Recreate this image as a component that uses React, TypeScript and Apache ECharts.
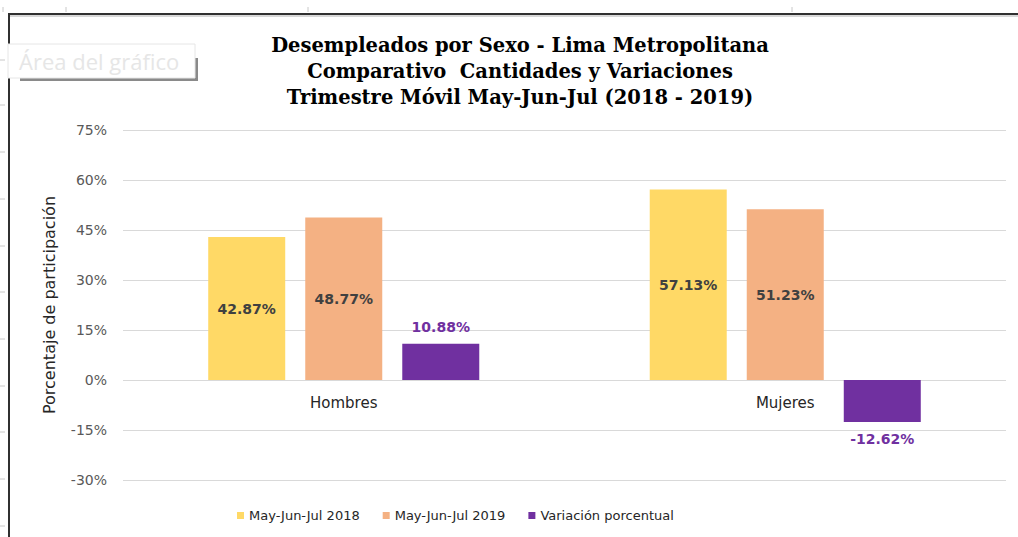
import React, { useEffect, useRef } from "react";
import * as echarts from "echarts";

const categories = ["Hombres", "Mujeres"];
const seriesNames = ["May-Jun-Jul 2018", "May-Jun-Jul 2019", "Variación porcentual"];
const values2018 = [42.87, 57.13];
const values2019 = [48.77, 51.23];
const variacion = [10.88, -12.62];
const yTicks = { min: -30, max: 75, interval: 15 };
const titleLines = [
  "Desempleados por Sexo - Lima Metropolitana",
  "Comparativo  Cantidades y Variaciones",
  "Trimestre Móvil May-Jun-Jul (2018 - 2019)",
];

const fmt = (v: number) => v.toFixed(2) + "%";

export default function App() {
  const ref = useRef<HTMLDivElement>(null);
  useEffect(() => {
    document.body.style.margin = "0";
    const chart = echarts.init(ref.current!, null, { renderer: "svg" });
    const sans = "DejaVu Sans";
    const innerLabel = {
      show: true,
      position: "inside",
      formatter: (p: any) => fmt(p.value),
      color: "#404040",
      fontFamily: sans,
      fontWeight: "bold",
      fontSize: 14,
    };
    const leftTicksY = [60, 105, 152, 199, 246, 292, 339, 386, 432, 479, 526];
    const topTicksX = [3, 66, 308, 792];
    const graphics: any[] = [];
    leftTicksY.forEach((y) =>
      graphics.push({ type: "line", shape: { x1: 0, y1: y, x2: 5, y2: y }, style: { stroke: "#c8c8c8", lineWidth: 1 }, silent: true })
    );
    topTicksX.forEach((x) =>
      graphics.push({ type: "line", shape: { x1: x, y1: 7, x2: x, y2: 12 }, style: { stroke: "#c8c8c8", lineWidth: 1 }, silent: true })
    );
    graphics.push(
      { type: "line", shape: { x1: 9, y1: 14, x2: 1018, y2: 14 }, style: { stroke: "#303030", lineWidth: 2 }, silent: true },
      { type: "line", shape: { x1: 9, y1: 16, x2: 1018, y2: 16 }, style: { stroke: "#b0b0b0", lineWidth: 1 }, silent: true },
      { type: "line", shape: { x1: 9, y1: 13, x2: 9, y2: 537 }, style: { stroke: "#303030", lineWidth: 2 }, silent: true },
      { type: "rect", shape: { x: 20, y: 78, width: 178, height: 3 }, style: { fill: "#8a8a8a" }, z: 100, silent: true },
      { type: "rect", shape: { x: 195, y: 58, width: 3, height: 23 }, style: { fill: "#8a8a8a" }, z: 100, silent: true },
      { type: "rect", shape: { x: 8, y: 44, width: 187, height: 34 }, style: { fill: "#ffffff", stroke: "#e6e6e6", lineWidth: 1 }, z: 101, silent: true },
      { type: "text", x: 19, y: 61, style: { text: "Área del gráfico", fill: "#e6e6e6", font: "22px 'Open Sans'", textVerticalAlign: "middle" }, z: 102, silent: true }
    );
    chart.setOption({
      animation: false,
      title: {
        text: titleLines.join("\n"),
        left: 515,
        top: 27,
        textAlign: "center",
        textStyle: {
          fontFamily: "DejaVu Serif",
          fontWeight: "bold",
          fontSize: 19.5,
          lineHeight: 26,
          color: "#000",
        },
      },
      legend: {
        left: 237,
        top: 509,
        padding: 0,
        icon: "rect",
        itemWidth: 7,
        itemHeight: 7,
        itemGap: 23,
        textStyle: { fontFamily: sans, fontSize: 13, color: "#262626" },
        data: seriesNames,
      },
      grid: { left: 123, right: 12, top: 130, bottom: 57 },
      xAxis: {
        type: "category",
        data: categories,
        axisLine: { show: false, onZero: false },
        axisTick: { show: false },
        axisLabel: { color: "#262626", fontFamily: sans, fontSize: 15, margin: -85 },
      },
      yAxis: {
        type: "value",
        min: yTicks.min,
        max: yTicks.max,
        interval: yTicks.interval,
        axisLine: { show: false },
        axisTick: { show: false },
        axisLabel: { formatter: "{value}%", color: "#595959", fontFamily: sans, fontSize: 14, margin: 16 },
        splitLine: { lineStyle: { color: "#d9d9d9", width: 1 } },
        name: "Porcentaje de participación",
        nameLocation: "middle",
        nameRotate: 90,
        nameGap: 66,
        nameTextStyle: { fontFamily: sans, fontSize: 16, color: "#262626" },
      },
      series: [
        {
          name: seriesNames[0],
          type: "bar",
          data: values2018,
          itemStyle: { color: "#FFD966" },
          barWidth: 77,
          barGap: "26%",
          label: innerLabel,
        },
        {
          name: seriesNames[1],
          type: "bar",
          data: values2019,
          itemStyle: { color: "#F4B183" },
          barWidth: 77,
          barGap: "26%",
          label: innerLabel,
        },
        {
          name: seriesNames[2],
          type: "bar",
          data: variacion.map((v) => ({
            value: v,
            label: { position: v >= 0 ? "top" : "bottom" },
          })),
          itemStyle: { color: "#7030A0" },
          barWidth: 77,
          barGap: "26%",
          label: {
            show: true,
            distance: 10,
            formatter: (p: any) => fmt(p.value),
            color: "#7030A0",
            fontFamily: sans,
            fontWeight: "bold",
            fontSize: 14,
          },
        },
      ],
      graphic: graphics,
    });
    return () => chart.dispose();
  }, []);
  return <div ref={ref} style={{ position: "fixed", left: 0, top: 0, width: 1018, height: 537, background: "#fff" }} />;
}
